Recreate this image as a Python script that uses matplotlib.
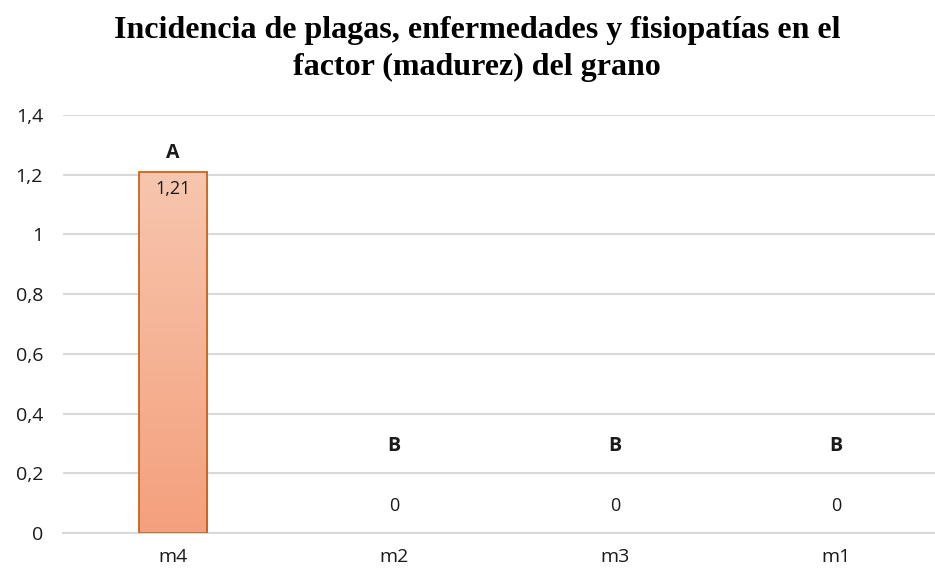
import numpy as np
import matplotlib
matplotlib.use("Agg")
import matplotlib.pyplot as plt
from matplotlib.colors import LinearSegmentedColormap

categories = ["m4", "m2", "m3", "m1"]
values = [1.21, 0, 0, 0]
value_labels = ["1,21", "0", "0", "0"]
group_letters = ["A", "B", "B", "B"]
yticks = [0, 0.2, 0.4, 0.6, 0.8, 1.0, 1.2, 1.4]
ytick_labels = ["0", "0,2", "0,4", "0,6", "0,8", "1", "1,2", "1,4"]

title = "Incidencia de plagas, enfermedades y fisiopatías en el\nfactor (madurez) del grano"

fig = plt.figure(figsize=(9.35, 5.73), dpi=100)
W, H = 935, 573
left, right = 62.5, 946.5
bottom, top = 573 - 533, 573 - 115
ax = fig.add_axes([left / W, bottom / H, (right - left) / W, (top - bottom) / H])

x = np.arange(len(categories))
bars = ax.bar(x, values, width=0.31, color="none", edgecolor="#C55A11",
              linewidth=1.2, zorder=3)

# vertical gradient fill clipped to each bar
cmap = LinearSegmentedColormap.from_list("grad", ["#F4A07C", "#F7C6AE"])
grad = np.linspace(0, 1, 256).reshape(-1, 1)
for b in bars:
    if b.get_height() <= 0:
        b.set_linewidth(0)
        continue
    x0, y0 = b.get_x(), b.get_y()
    im = ax.imshow(grad, cmap=cmap, origin="lower", aspect="auto",
                   extent=[x0, x0 + b.get_width(), y0, y0 + b.get_height()],
                   zorder=2)
    im.set_clip_path(b)

ax.set_xlim(-0.5, len(categories) - 0.5)
ax.set_ylim(0, 1.4)
ax.set_yticks(yticks)
ax.set_yticklabels(ytick_labels)
ax.set_xticks(x)
ax.set_xticklabels(categories)

for lab in ax.get_yticklabels() + ax.get_xticklabels():
    lab.set_fontfamily("Open Sans")
    lab.set_fontsize(14)
    lab.set_color("#1a1a1a")
ax.tick_params(axis="y", length=0, pad=14)
ax.tick_params(axis="x", length=0, pad=11)

ax.grid(axis="y", color="#D9D9D9", linewidth=1.5, zorder=0)
for s in ["top", "right", "left"]:
    ax.spines[s].set_visible(False)
ax.spines["bottom"].set_color("#D9D9D9")
ax.spines["bottom"].set_linewidth(1.5)
ax.set_axisbelow(True)

# value labels and significance letters
for xi, v, vl, g in zip(x, values, value_labels, group_letters):
    if v > 0:
        ax.text(xi, v - 0.028, vl, ha="center", va="top", fontsize=13,
                family="Open Sans", color="#1a1a1a", zorder=4)
        ax.text(xi, v + 0.03, g, ha="center", va="bottom", fontsize=14,
                family="Open Sans", fontweight="bold", color="#1a1a1a", zorder=4)
    else:
        ax.text(xi, v + 0.09, vl, ha="center", va="center", fontsize=13,
                family="Open Sans", color="#1a1a1a", zorder=4)
        ax.text(xi, v + 0.29, g, ha="center", va="center", fontsize=14,
                family="Open Sans", fontweight="bold", color="#1a1a1a", zorder=4)

fig.text(477 / W, 1 - 49 / H, title, ha="center", va="center",
         family="Liberation Serif", fontweight="bold", fontsize=23,
         linespacing=1.32, color="black")

fig.savefig("out.png", dpi=100)
